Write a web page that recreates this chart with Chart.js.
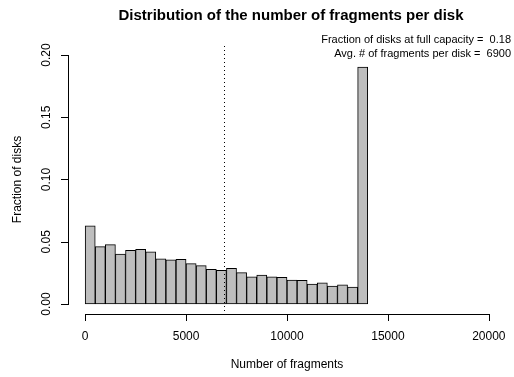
<!DOCTYPE html>
<html lang="en">
<head>
<meta charset="UTF-8">
<title>Distribution of the number of fragments per disk</title>
<style>
    body { margin: 0; background: #ffffff; }
    .chart-container { width: 514px; height: 377px; }
</style>
</head>
<body>
<div class="chart-container">
    <canvas id="fragChart" width="514" height="377"></canvas>
</div>

<script src="https://cdn.jsdelivr.net/npm/chart.js"></script>
<script>
    // Histogram bins (left edge of each bin, width 500 fragments)
    const binStarts = [
        0, 500, 1000, 1500, 2000, 2500, 3000, 3500, 4000, 4500,
        5000, 5500, 6000, 6500, 7000, 7500, 8000, 8500, 9000, 9500,
        10000, 10500, 11000, 11500, 12000, 12500, 13000, 13500
    ];
    const binWidth = 500;

    // Fraction of disks in each bin
    const fractions = [
        0.0627, 0.0461, 0.0477, 0.0402, 0.0432, 0.0440, 0.0420, 0.0362, 0.0354, 0.0359,
        0.0324, 0.0308, 0.0279, 0.0271, 0.0287, 0.0252, 0.0219, 0.0233, 0.0219, 0.0215,
        0.0193, 0.0191, 0.0161, 0.0171, 0.0145, 0.0155, 0.0137, 0.1903
    ];

    const xTicks = [0, 5000, 10000, 15000, 20000];
    const yTicks = [0.00, 0.05, 0.10, 0.15, 0.20];
    const yTickLabels = ['0.00', '0.05', '0.10', '0.15', '0.20'];

    const avgFragments = 6900;
    const fullCapacity = 0.18;

    const FONT = '"Liberation Sans", Arial, Helvetica, sans-serif';

    // R-style axes, labels and annotation drawn with the chart's own scales
    const rAxes = {
        id: 'rAxes',
        afterDraw(chart) {
            const ctx = chart.ctx;
            const xs = chart.scales.x, ys = chart.scales.y;
            const area = chart.chartArea;
            ctx.save();
            ctx.fillStyle = '#000';

            // average line (dotted)
            const ax = Math.round(xs.getPixelForValue(avgFragments));
            for (let y = Math.round(area.top) + 1; y < area.bottom; y += 4) {
                ctx.fillRect(ax, y, 1, 1);
            }

            // x axis
            const yb = Math.round(area.bottom);
            const x0 = Math.round(xs.getPixelForValue(xTicks[0]));
            const x1 = Math.round(xs.getPixelForValue(xTicks[xTicks.length - 1]));
            ctx.fillRect(x0, yb, x1 - x0 + 1, 1);
            xTicks.forEach(v => {
                const px = Math.round(xs.getPixelForValue(v));
                ctx.fillRect(px, yb, 1, 7);
            });
            ctx.font = '12px ' + FONT;
            ctx.textAlign = 'center';
            ctx.textBaseline = 'middle';
            xTicks.forEach(v => {
                ctx.fillText(String(v), xs.getPixelForValue(v), 337);
            });
            ctx.fillText('Number of fragments', (area.left + area.right) / 2, 365);

            // y axis
            const xl = Math.round(area.left) - 1;
            const yTop = Math.round(ys.getPixelForValue(yTicks[yTicks.length - 1]));
            const yBot = Math.round(ys.getPixelForValue(yTicks[0]));
            ctx.fillRect(xl, yTop, 1, yBot - yTop + 1);
            yTicks.forEach(v => {
                const py = Math.round(ys.getPixelForValue(v));
                ctx.fillRect(xl - 7, py, 7, 1);
            });
            yTicks.forEach((v, i) => {
                ctx.save();
                ctx.translate(47, ys.getPixelForValue(v));
                ctx.rotate(-Math.PI / 2);
                ctx.fillText(yTickLabels[i], 0, 0);
                ctx.restore();
            });
            ctx.save();
            ctx.translate(18, (area.top + area.bottom) / 2);
            ctx.rotate(-Math.PI / 2);
            ctx.fillText('Fraction of disks', 0, 0);
            ctx.restore();

            // title
            ctx.font = 'bold 15px ' + FONT;
            ctx.fillText('Distribution of the number of fragments per disk', 291, 16);

            // annotations
            ctx.font = '11px ' + FONT;
            ctx.textAlign = 'right';
            ctx.fillText('Fraction of disks at full capacity =  ' + fullCapacity.toFixed(2), 511, 40);
            ctx.fillText('Avg. # of fragments per disk =  ' + avgFragments, 511, 54);
            ctx.restore();
        }
    };

    const config = {
        type: 'bar',
        data: {
            datasets: [{
                data: binStarts.map((b, i) => ({ x: b + binWidth / 2, y: fractions[i] })),
                backgroundColor: '#bebebe',
                borderColor: '#000000',
                borderWidth: 1,
                borderSkipped: false,
                barPercentage: 1.0,
                categoryPercentage: 1.0
            }]
        },
        options: {
            responsive: false,
            animation: false,
            layout: { padding: { left: 69, right: 9, top: 45, bottom: 63 } },
            plugins: {
                legend: { display: false },
                tooltip: { enabled: false }
            },
            scales: {
                x: { type: 'linear', offset: false, min: -800, max: 20800, display: false },
                y: { min: -0.008, max: 0.208, display: false }
            }
        },
        plugins: [rAxes]
    };

    new Chart(document.getElementById('fragChart'), config);
</script>
</body>
</html>
